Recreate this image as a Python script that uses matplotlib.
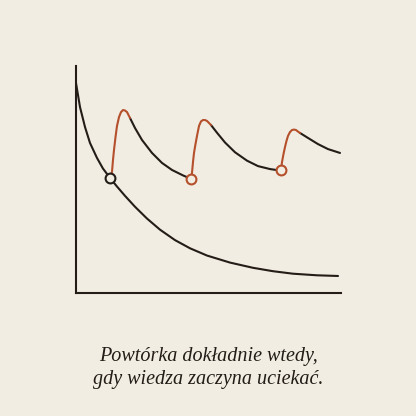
import matplotlib.pyplot as plt

# forgetting curve without review (0-100 scale)
base_x = [0, 1.51, 3.40, 5.28, 7.92, 10.19, 12.83, 15.47, 18.49, 22.26, 26.79,
          31.70, 37.36, 43.02, 49.43, 58.11, 66.79, 74.34, 81.89, 90.94, 98.87]
base_y = [92.5, 81.9, 73.1, 66.1, 59.5, 54.8, 50.7, 46.9, 42.8, 38.0, 32.8,
          27.9, 23.3, 19.7, 16.5, 13.4, 11.1, 9.6, 8.5, 7.8, 7.5]

# review boosts (orange) and the decay after each (dark)
rise1_x = [12.83, 13.58, 13.96, 14.34, 14.91, 15.47, 16.23, 16.98, 17.74, 18.49, 19.25, 20.38]
rise1_y = [50.7, 53.3, 58.6, 63.0, 68.7, 73.6, 77.5, 79.7, 80.6, 80.4, 79.7, 77.1]
decay1_x = [20.38, 22.26, 24.91, 28.68, 32.45, 36.23, 40.38, 43.40]
decay1_y = [77.1, 72.7, 67.4, 61.7, 57.3, 54.2, 51.8, 50.3]

rise2_x = [43.40, 43.77, 44.15, 44.53, 45.09, 45.66, 46.42, 47.17, 47.92, 48.68, 49.43, 50.19, 50.94]
rise2_y = [50.2, 52.9, 57.7, 61.7, 65.6, 69.2, 73.6, 75.6, 76.2, 76.2, 75.8, 74.9, 74.0]
decay2_x = [50.94, 53.21, 56.23, 60.0, 64.53, 68.68, 73.21, 77.36]
decay2_y = [74.0, 70.6, 66.3, 62.0, 58.3, 55.9, 54.6, 53.9]

rise3_x = [77.36, 77.74, 78.30, 78.87, 79.43, 80.0, 80.75, 81.51, 82.26, 83.02, 83.77, 84.53]
rise3_y = [54.2, 57.7, 61.2, 64.3, 67.0, 69.2, 70.9, 71.8, 72.0, 71.8, 71.1, 70.5]
decay3_x = [84.53, 87.55, 91.32, 95.09, 99.62]
decay3_y = [70.5, 68.3, 65.6, 63.4, 61.7]

review_x = [12.83, 43.40, 77.36]
review_y = [50.7, 50.2, 54.2]

caption = "Powtórka dokładnie wtedy,\ngdy wiedza zaczyna uciekać."

bg = '#f2ede3'
dark = '#231c17'
rust = '#b5502c'

fig = plt.figure(figsize=(4.16, 4.16), dpi=100, facecolor=bg)
ax = fig.add_axes([76/416, 123/416, 265/416, 227/416])
ax.set_facecolor(bg)

ax.plot(base_x, base_y, color=dark, lw=1.5, solid_capstyle='round', solid_joinstyle='round')
for x, y in [(decay1_x, decay1_y), (decay2_x, decay2_y), (decay3_x, decay3_y)]:
    ax.plot(x, y, color=dark, lw=1.5, solid_capstyle='round', solid_joinstyle='round')
for x, y in [(rise1_x, rise1_y), (rise2_x, rise2_y), (rise3_x, rise3_y)]:
    ax.plot(x, y, color=rust, lw=1.5, solid_capstyle='round', solid_joinstyle='round')

ax.scatter(review_x[:1], review_y[:1], s=50, facecolor=bg, edgecolor=dark, linewidth=1.5, zorder=5, clip_on=False)
ax.scatter(review_x[1:], review_y[1:], s=50, facecolor=bg, edgecolor=rust, linewidth=1.5, zorder=5, clip_on=False)

ax.set_xlim(0, 100)
ax.set_ylim(0, 100)
for s in ['top', 'right']:
    ax.spines[s].set_visible(False)
for s in ['left', 'bottom']:
    ax.spines[s].set_color(dark)
    ax.spines[s].set_linewidth(1.5)
ax.set_xticks([])
ax.set_yticks([])

fig.text(0.5, 1 - 368/416, caption, ha='center', va='center', fontsize=14.5,
         family='Liberation Serif', style='italic', color=dark, linespacing=1.3)

fig.savefig('out.png', dpi=100, facecolor=bg)
